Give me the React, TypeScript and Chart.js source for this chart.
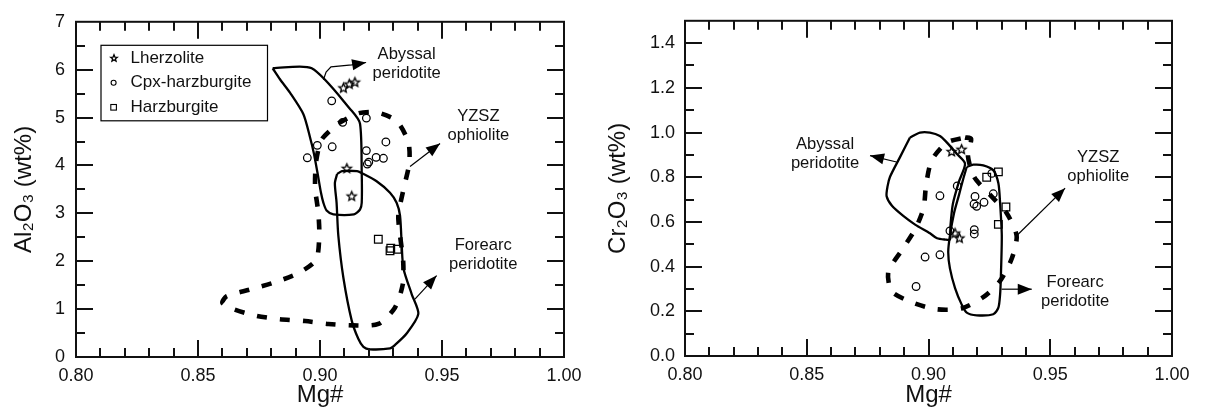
import React, { useEffect, useRef } from "react";
import { Chart, registerables } from "chart.js";

Chart.register(...registerables);

const FONT = '"Liberation Sans", Arial, Helvetica, sans-serif';
const INK = "#111";

// ---------------- Panel (a): Al2O3 vs Mg# ----------------
const mgLherzA = [0.9096, 0.912, 0.9143, 0.911, 0.913];
const alLherz = [5.62, 5.7, 5.74, 3.94, 3.36];
const mgCpxA = [0.9048, 0.9093, 0.919, 0.927, 0.8989, 0.905, 0.8948, 0.919, 0.923, 0.926, 0.92, 0.9194];
const alCpx = [5.35, 4.9, 4.99, 4.49, 4.42, 4.39, 4.16, 4.31, 4.17, 4.15, 4.07, 4.03];
const mgHarzA = [0.9239, 0.929, 0.9317, 0.9287];
const alHarz = [2.46, 2.27, 2.25, 2.22];

const mgAbyssalA = [0.8806, 0.8966, 0.913, 0.9164, 0.9171, 0.9171, 0.9164, 0.9139, 0.9055, 0.9027, 0.9014, 0.9004, 0.8992, 0.8975, 0.8959, 0.8932, 0.8877, 0.8836, 0.8806];
const alAbyssal = [6.03, 6.03, 5.14, 4.87, 3.84, 3.22, 3.08, 2.98, 2.98, 3.06, 3.22, 3.43, 3.78, 4.25, 4.59, 5.07, 5.52, 5.8, 6.03];
const mgForearcA = [0.907, 0.909, 0.9152, 0.9171, 0.9232, 0.9287, 0.9314, 0.9328, 0.9335, 0.9342, 0.9376, 0.9403, 0.9355, 0.9307, 0.9287, 0.9205, 0.9178, 0.9157, 0.913, 0.9096, 0.9075, 0.9068, 0.9061, 0.907];
const alForearc = [3.82, 3.88, 3.88, 3.84, 3.67, 3.43, 3.22, 2.95, 2.33, 1.85, 1.31, 0.9, 0.49, 0.25, 0.18, 0.16, 0.21, 0.38, 0.76, 1.65, 2.54, 3.22, 3.63, 3.82];
const mgYzszA = [0.9075, 0.9157, 0.9232, 0.9314, 0.9362, 0.9366, 0.9342, 0.9321, 0.9328, 0.9341, 0.9339, 0.9307, 0.9239, 0.9136, 0.9034, 0.8939, 0.8836, 0.874, 0.8645, 0.86, 0.8618, 0.8713, 0.8809, 0.8911, 0.8984, 0.8997, 0.8993, 0.898, 0.8984, 0.9007, 0.9075];
const alYzsz = [4.88, 5.09, 5.11, 4.93, 4.49, 4.05, 3.5, 2.95, 2.54, 1.99, 1.51, 1.03, 0.69, 0.66, 0.69, 0.75, 0.79, 0.86, 1.0, 1.13, 1.27, 1.41, 1.55, 1.75, 2.03, 2.54, 3.02, 3.53, 4.08, 4.54, 4.88];

// ---------------- Panel (b): Cr2O3 vs Mg# ----------------
const mgLherzB = [0.9095, 0.9136, 0.9109, 0.9127];
const crLherz = [0.915, 0.925, 0.55, 0.528];
const mgCpxB = [0.9118, 0.9047, 0.9191, 0.9266, 0.9228, 0.9187, 0.9198, 0.9088, 0.9188, 0.9188, 0.926, 0.8986, 0.9047, 0.8949];
const crCpx = [0.761, 0.717, 0.714, 0.726, 0.688, 0.68, 0.67, 0.56, 0.565, 0.546, 0.817, 0.443, 0.453, 0.311];
const mgHarzB = [0.9239, 0.9287, 0.9318, 0.9287];
const crHarz = [0.8, 0.824, 0.667, 0.589];

const mgAbyssalB = [0.8924, 0.8965, 0.9006, 0.9047, 0.9075, 0.9116, 0.915, 0.9125, 0.91, 0.909, 0.9088, 0.9068, 0.9035, 0.9006, 0.8945, 0.8895, 0.885, 0.8828, 0.8832, 0.8842, 0.8883, 0.8924];
const crAbyssal = [0.978, 1.0, 1.0, 0.985, 0.956, 0.905, 0.861, 0.78, 0.68, 0.58, 0.521, 0.521, 0.527, 0.549, 0.588, 0.628, 0.672, 0.715, 0.76, 0.802, 0.89, 0.978];
const mgForearcB = [0.9157, 0.9184, 0.9225, 0.9266, 0.9287, 0.9294, 0.9301, 0.9297, 0.9294, 0.9287, 0.9266, 0.9198, 0.9157, 0.9136, 0.9109, 0.9088, 0.9081, 0.9088, 0.9105, 0.9125, 0.9142, 0.9157];
const crForearc = [0.846, 0.856, 0.853, 0.831, 0.773, 0.685, 0.538, 0.348, 0.275, 0.216, 0.187, 0.182, 0.194, 0.231, 0.304, 0.392, 0.465, 0.538, 0.64, 0.72, 0.79, 0.846];
const mgYzszB = [0.915, 0.9175, 0.9162, 0.9188, 0.9253, 0.932, 0.9362, 0.9342, 0.9294, 0.9225, 0.9136, 0.9034, 0.8938, 0.8849, 0.8835, 0.889, 0.8945, 0.898, 0.899, 0.9013, 0.9075, 0.915];
const crYzsz = [0.978, 0.972, 0.895, 0.8, 0.721, 0.641, 0.538, 0.436, 0.336, 0.263, 0.213, 0.209, 0.238, 0.289, 0.377, 0.473, 0.567, 0.663, 0.765, 0.875, 0.955, 0.978];

// ---------------- Axis ticks ----------------
const xTickLabels = ["0.80", "0.85", "0.90", "0.95", "1.00"];
const yTickLabelsA = ["0", "1", "2", "3", "4", "5", "6", "7"];
const yTickLabelsB = ["0.0", "0.2", "0.4", "0.6", "0.8", "1.0", "1.2", "1.4"];

const legendNames = ["Lherzolite", "Cpx-harzburgite", "Harzburgite"];

type P = { x: number; y: number };
const pts = (xs: number[], ys: number[]): P[] => xs.map((x, i) => ({ x, y: ys[i] }));

function makeStar(outer: number, lw: number) {
  const size = Math.ceil(outer * 2 + lw * 2 + 2);
  const c = document.createElement("canvas");
  c.width = size;
  c.height = size;
  const ctx = c.getContext("2d")!;
  const cx = size / 2;
  const cy = size / 2 + 0.3;
  const inner = outer * 0.45;
  ctx.beginPath();
  for (let i = 0; i < 10; i++) {
    const r = i % 2 === 0 ? outer : inner;
    const a = -Math.PI / 2 + (i * Math.PI) / 5;
    const px = cx + r * Math.cos(a);
    const py = cy + r * Math.sin(a);
    if (i === 0) ctx.moveTo(px, py);
    else ctx.lineTo(px, py);
  }
  ctx.closePath();
  ctx.lineWidth = lw;
  ctx.strokeStyle = "#000";
  ctx.stroke();
  return c;
}

function frameTicksPlugin(xMinor: number, xMajor: number, yMinor: number, yMajor: number) {
  return {
    id: "frameTicks",
    afterDatasetsDraw(chart: any) {
      const { ctx, chartArea: a, scales } = chart;
      const xs = scales.x;
      const ys = scales.y;
      ctx.save();
      ctx.strokeStyle = INK;
      ctx.lineWidth = 2;
      ctx.strokeRect(a.left, a.top, a.right - a.left, a.bottom - a.top);
      ctx.beginPath();
      const nx = Math.round((xs.max - xs.min) / xMinor);
      for (let i = 1; i < nx; i++) {
        const v = xs.min + i * xMinor;
        const r = v / xMajor;
        const major = Math.abs(r - Math.round(r)) < 1e-6;
        const len = major ? 17 : 9;
        const px = Math.round(xs.getPixelForValue(v));
        ctx.moveTo(px, a.bottom);
        ctx.lineTo(px, a.bottom - len);
        ctx.moveTo(px, a.top);
        ctx.lineTo(px, a.top + len);
      }
      const ny = Math.round((ys.max - ys.min) / yMinor);
      for (let i = 1; i < ny; i++) {
        const v = ys.min + i * yMinor;
        const r = v / yMajor;
        const major = Math.abs(r - Math.round(r)) < 1e-6;
        const len = major ? 17 : 9;
        const py = Math.round(ys.getPixelForValue(v));
        ctx.moveTo(a.left, py);
        ctx.lineTo(a.left + len, py);
        ctx.moveTo(a.right, py);
        ctx.lineTo(a.right - len, py);
      }
      ctx.stroke();
      ctx.restore();
    },
  };
}

type Label = { x: number; y: number; lines: string[] };
type Arrow = { path: [number, number][] };

function annotPlugin(labels: Label[], arrows: Arrow[]) {
  return {
    id: "annot",
    afterDatasetsDraw(chart: any) {
      const { ctx, scales } = chart;
      const xs = scales.x;
      const ys = scales.y;
      ctx.save();
      ctx.fillStyle = "#111";
      ctx.font = `16.6px ${FONT}`;
      ctx.textAlign = "center";
      ctx.textBaseline = "middle";
      const lh = 18.8;
      labels.forEach((l) => {
        const cx = xs.getPixelForValue(l.x);
        const cy = ys.getPixelForValue(l.y);
        const n = l.lines.length;
        l.lines.forEach((t, i) => ctx.fillText(t, cx, cy + (i - (n - 1) / 2) * lh));
      });
      ctx.strokeStyle = "#000";
      ctx.fillStyle = "#000";
      ctx.lineWidth = 1.2;
      arrows.forEach((ar) => {
        const p = ar.path.map(([x, y]) => [xs.getPixelForValue(x), ys.getPixelForValue(y)]);
        ctx.beginPath();
        p.forEach(([x, y], i) => (i ? ctx.lineTo(x, y) : ctx.moveTo(x, y)));
        ctx.stroke();
        const [tx, ty] = p[p.length - 1];
        const [sx, sy] = p[p.length - 2];
        const d = Math.hypot(tx - sx, ty - sy) || 1;
        const ux = (tx - sx) / d;
        const uy = (ty - sy) / d;
        const L = 14;
        const W = 5.5;
        const bx = tx - ux * L;
        const by = ty - uy * L;
        ctx.beginPath();
        ctx.moveTo(tx, ty);
        ctx.lineTo(bx - uy * W, by + ux * W);
        ctx.lineTo(bx + uy * W, by - ux * W);
        ctx.closePath();
        ctx.fill();
      });
      ctx.restore();
    },
  };
}

function legendPlugin() {
  return {
    id: "boxLegend",
    afterDatasetsDraw(chart: any) {
      const { ctx, chartArea: a } = chart;
      const x0 = a.left + 25;
      const y0 = a.top + 23.5;
      const w = 166.5;
      const h = 75.5;
      ctx.save();
      ctx.fillStyle = "#fff";
      ctx.fillRect(x0, y0, w, h);
      ctx.strokeStyle = "#000";
      ctx.lineWidth = 1.2;
      ctx.strokeRect(x0, y0, w, h);
      ctx.font = `17px ${FONT}`;
      ctx.fillStyle = "#111";
      ctx.textAlign = "left";
      ctx.textBaseline = "middle";
      const mx = x0 + 12.6;
      legendNames.forEach((name, i) => {
        const cy = y0 + 13 + i * 24.5;
        ctx.fillText(name, x0 + 29.5, cy);
        ctx.lineWidth = 1.1;
        ctx.strokeStyle = "#000";
        if (i === 0) {
          const s = makeStar(3.5, 1.3);
          ctx.drawImage(s, Math.round(mx - s.width / 2), Math.round(cy - s.height / 2));
        } else if (i === 1) {
          ctx.beginPath();
          ctx.arc(mx, cy, 2.5, 0, Math.PI * 2);
          ctx.stroke();
        } else {
          ctx.strokeRect(mx - 2.8, cy - 2.8, 5.6, 5.6);
        }
      });
      ctx.restore();
    },
  };
}

function polygon(data: P[], dashed: boolean) {
  return {
    data,
    showLine: true,
    pointRadius: 0,
    borderColor: "#000",
    borderWidth: dashed ? 4.6 : 2.3,
    borderDash: dashed ? [10, 13] : [],
    borderCapStyle: "butt",
    tension: 0.25,
    fill: false,
  };
}

function markers(data: P[], style: any, radius: number) {
  return {
    data,
    showLine: false,
    pointStyle: style,
    pointRadius: radius,
    pointBorderWidth: 1.25,
    pointBorderColor: "#000",
    pointBackgroundColor: "rgba(0,0,0,0)",
    borderColor: "#000",
    backgroundColor: "rgba(0,0,0,0)",
  };
}

function makeChart(
  canvas: HTMLCanvasElement,
  datasets: any[],
  yMax: number,
  yStep: number,
  yLabels: string[],
  yTitle: string,
  yWidth: number,
  xHeight: number,
  padRight: number,
  yTitlePad: number,
  yTickPad: number,
  plugins: any[]
) {
  return new Chart(canvas, {
    type: "scatter",
    data: { datasets },
    options: {
      animation: false,
      responsive: false,
      events: [],
      layout: { padding: { top: 16, right: padRight, left: 0, bottom: 0 } },
      plugins: { legend: { display: false }, tooltip: { enabled: false } },
      scales: {
        x: {
          type: "linear",
          min: 0.8,
          max: 1.0,
          grid: { display: false, drawTicks: false },
          border: { display: false },
          ticks: {
            stepSize: 0.05,
            includeBounds: false,
            padding: 8,
            color: "#111",
            font: { family: FONT, size: 18 },
            callback: (v: any) => {
              const i = Math.round((Number(v) - 0.8) / 0.05);
              return xTickLabels[i] ?? "";
            },
          },
          title: {
            display: true,
            text: "Mg#",
            color: "#111",
            font: { family: FONT, size: 24 },
            padding: { top: 0, bottom: 2 },
          },
          afterFit: (s: any) => {
            s.height = xHeight;
          },
        },
        y: {
          type: "linear",
          min: 0,
          max: yMax,
          grid: { display: false, drawTicks: false },
          border: { display: false },
          ticks: {
            stepSize: yStep,
            includeBounds: false,
            padding: yTickPad,
            color: "#111",
            font: { family: FONT, size: 18 },
            callback: (v: any) => {
              const i = Math.round(Number(v) / yStep);
              return yLabels[i] ?? "";
            },
          },
          title: {
            display: true,
            text: yTitle,
            color: "#111",
            font: { family: FONT, size: 24 },
            padding: { top: yTitlePad, bottom: 0 },
          },
          afterFit: (s: any) => {
            s.width = yWidth;
          },
        },
      },
    } as any,
    plugins,
  });
}

export default function App() {
  const refA = useRef<HTMLCanvasElement>(null);
  const refB = useRef<HTMLCanvasElement>(null);

  useEffect(() => {
    const star = makeStar(4.8, 1.35);

    const dsA = [
      polygon(pts(mgAbyssalA, alAbyssal), false),
      polygon(pts(mgForearcA, alForearc), false),
      polygon(pts(mgYzszA, alYzsz), true),
      markers(pts(mgLherzA, alLherz), star, 5),
      markers(pts(mgCpxA, alCpx), "circle", 3.8),
      markers(pts(mgHarzA, alHarz), "rect", 5.4),
    ];
    const dsB = [
      polygon(pts(mgAbyssalB, crAbyssal), false),
      polygon(pts(mgForearcB, crForearc), false),
      polygon(pts(mgYzszB, crYzsz), true),
      markers(pts(mgLherzB, crLherz), star, 5),
      markers(pts(mgCpxB, crCpx), "circle", 3.8),
      markers(pts(mgHarzB, crHarz), "rect", 5.4),
    ];

    const labelsA: Label[] = [
      { x: 0.9355, y: 6.12, lines: ["Abyssal", "peridotite"] },
      { x: 0.9649, y: 4.83, lines: ["YZSZ", "ophiolite"] },
      { x: 0.9669, y: 2.14, lines: ["Forearc", "peridotite"] },
    ];
    const arrowsA: Arrow[] = [
      { path: [[0.9014, 5.79], [0.9025, 5.95], [0.9045, 6.06], [0.913, 6.1], [0.9189, 6.15]] },
      { path: [[0.9369, 3.98], [0.9492, 4.46]] },
      { path: [[0.9389, 1.21], [0.9478, 1.7]] },
    ];
    const labelsB: Label[] = [
      { x: 0.8575, y: 0.906, lines: ["Abyssal", "peridotite"] },
      { x: 0.9697, y: 0.846, lines: ["YZSZ", "ophiolite"] },
      { x: 0.9602, y: 0.285, lines: ["Forearc", "peridotite"] },
    ];
    const arrowsB: Arrow[] = [
      { path: [[0.8869, 0.868], [0.876, 0.897]] },
      { path: [[0.9362, 0.538], [0.9561, 0.751]] },
      { path: [[0.93, 0.299], [0.9424, 0.299]] },
    ];

    const chartA = makeChart(
      refA.current!, dsA, 7, 1, yTickLabelsA, "Al\u2082O\u2083 (wt%)",
      76, 55, 36, 10, 11,
      [annotPlugin(labelsA, arrowsA), legendPlugin(), frameTicksPlugin(0.01, 0.05, 0.5, 1)]
    );
    const chartB = makeChart(
      refB.current!, dsB, 1.5, 0.2, yTickLabelsB, "Cr\u2082O\u2083 (wt%)",
      85, 56, 34, 4, 10,
      [annotPlugin(labelsB, arrowsB), frameTicksPlugin(0.01, 0.05, 0.1, 0.2)]
    );
    return () => {
      chartA.destroy();
      chartB.destroy();
    };
  }, []);

  return (
    <div style={{ position: "absolute", left: 0, top: 0, width: 1206, height: 412, background: "#fff" }}>
      <canvas ref={refA} width={600} height={412} style={{ position: "absolute", left: 0, top: 0 }} />
      <canvas ref={refB} width={606} height={412} style={{ position: "absolute", left: 600, top: 0 }} />
    </div>
  );
}
